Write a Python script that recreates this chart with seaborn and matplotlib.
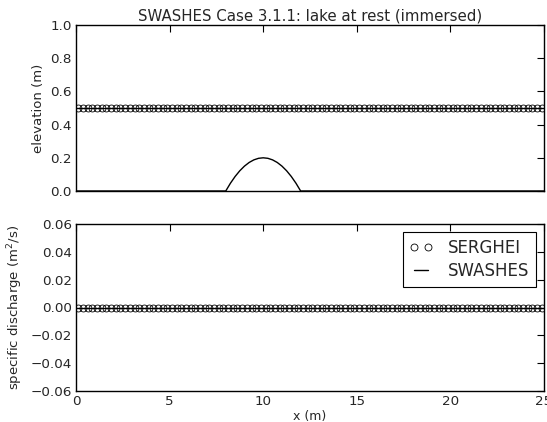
import numpy as np
import matplotlib
matplotlib.use("Agg")
import matplotlib.pyplot as plt
import seaborn as sns

# SERGHEI cell centres (dx = 0.25 m) and results
x_cells = np.arange(0.125, 25.0, 0.25)
h_serghei = [0.5] * len(x_cells)      # free surface elevation (m)
q_serghei = [0.0] * len(x_cells)      # specific discharge (m2/s)

# SWASHES analytical solution
x_swashes = [0.0, 25.0]
h_swashes = [0.5, 0.5]
q_swashes = [0.0, 0.0]

# bump topography
x_bed = [0.0, 8.0, 8.25, 8.5, 8.75, 9.0, 9.25, 9.5, 9.75, 10.0,
         10.25, 10.5, 10.75, 11.0, 11.25, 11.5, 11.75, 12.0, 25.0]
z_bed = [0.0, 0.0, 0.0469, 0.0875, 0.1219, 0.15, 0.1719, 0.1875, 0.1969, 0.2,
         0.1969, 0.1875, 0.1719, 0.15, 0.1219, 0.0875, 0.0469, 0.0, 0.0]

sns.set_style("white", {"xtick.direction": "in", "ytick.direction": "in",
                        "axes.edgecolor": "black"})
plt.rcParams['font.family'] = ['DejaVu Sans']

W, H = 547, 422
fig = plt.figure(figsize=(W / 100, H / 100), dpi=100)
ax1 = fig.add_axes([76/W, 1 - 191/H, 468/W, 166/H])
ax2 = fig.add_axes([76/W, 1 - 391/H, 468/W, 167/H], sharex=ax1)

mk = dict(marker='o', linestyle='none', mfc='none', mec='black', ms=5, mew=0.6)

sns.lineplot(x=x_cells, y=h_serghei, ax=ax1, **mk)
sns.lineplot(x=x_swashes, y=h_swashes, ax=ax1, color='black', lw=1)
sns.lineplot(x=x_bed, y=z_bed, ax=ax1, color='black', lw=1)

sns.lineplot(x=x_cells, y=q_serghei, ax=ax2, label='SERGHEI', **mk)
sns.lineplot(x=x_swashes, y=q_swashes, ax=ax2, color='black', lw=1, label='SWASHES')

ax1.set_xlim(0, 25)
ax1.set_ylim(0, 1)
ax2.set_ylim(-0.06, 0.06)
ax1.set_yticks([0, 0.2, 0.4, 0.6, 0.8, 1.0])
ax2.set_yticks([-0.06, -0.04, -0.02, 0.0, 0.02, 0.04, 0.06])
ax2.set_xticks([0, 5, 10, 15, 20, 25])

for ax in (ax1, ax2):
    ax.tick_params(top=True, right=True, direction='in', length=5, width=0.8,
                   labelsize=9.7, color='black', pad=3)
    for s in ax.spines.values():
        s.set_linewidth(1)
ax1.tick_params(labelbottom=False)

ax1.set_title("SWASHES Case 3.1.1: lake at rest (immersed)", fontsize=10.8, pad=3)
ax1.set_ylabel("elevation (m)", fontsize=9.5)
ax2.set_ylabel("specific discharge (m$^2$/s)", fontsize=9.5)
ax2.set_xlabel("x (m)", fontsize=9, labelpad=1)
ax1.set_yticklabels(["0.0", "0.2", "0.4", "0.6", "0.8", "1.0"])
ax2.set_yticklabels(["\u22120.06", "\u22120.04", "\u22120.02", "0.00", "0.02", "0.04", "0.06"])

leg = ax2.legend(loc='upper right', numpoints=2, fontsize=12, fancybox=False,
                 frameon=True, edgecolor='black', framealpha=1,
                 borderaxespad=0.5, handlelength=1.4, handletextpad=0.9,
                 borderpad=0.4, labelspacing=0.3)
leg.get_frame().set_linewidth(0.8)

fig.savefig("out.png", dpi=100)
